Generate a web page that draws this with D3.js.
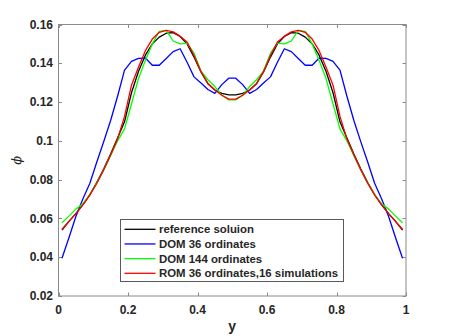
<!DOCTYPE html>
<html>
<head>
<meta charset="utf-8">
<script src="https://cdn.jsdelivr.net/npm/d3@7"></script>
<style>
  body { margin: 0; background: #fff; }
  svg { display: block; }
  text { font-family: 'Liberation Sans', Arial, Helvetica, sans-serif; font-weight: bold; fill: #262626; }
</style>
</head>
<body>
<svg id="chart" width="449" height="336"></svg>
<script>
// spatial positions (y) of the cell centres
const positions = [
  0.01, 0.03, 0.05, 0.07, 0.09, 0.11, 0.13, 0.15, 0.17, 0.19,
  0.21, 0.23, 0.25, 0.27, 0.29, 0.31, 0.33, 0.35, 0.37, 0.39,
  0.41, 0.43, 0.45, 0.47, 0.49, 0.51, 0.53, 0.55, 0.57, 0.59,
  0.61, 0.63, 0.65, 0.67, 0.69, 0.71, 0.73, 0.75, 0.77, 0.79,
  0.81, 0.83, 0.85, 0.87, 0.89, 0.91, 0.93, 0.95, 0.97, 0.99
]

const reference = [
  0.0540, 0.0585, 0.0625, 0.0670, 0.0722, 0.0785, 0.0855, 0.0932, 0.1015, 0.1098,
  0.1248, 0.1358, 0.1442, 0.1500, 0.1535, 0.1555, 0.1558, 0.1538, 0.1500, 0.1432,
  0.1355, 0.1295, 0.1262, 0.1245, 0.1237, 0.1237, 0.1245, 0.1262, 0.1295, 0.1355,
  0.1432, 0.1500, 0.1538, 0.1558, 0.1555, 0.1535, 0.1500, 0.1442, 0.1358, 0.1248,
  0.1098, 0.1015, 0.0932, 0.0855, 0.0785, 0.0722, 0.0670, 0.0625, 0.0585, 0.0540
]

const dom36 = [
  0.0395, 0.0500, 0.0610, 0.0700, 0.0780, 0.0890, 0.0995, 0.1105, 0.1230, 0.1365,
  0.1410, 0.1425, 0.1427, 0.1390, 0.1390, 0.1425, 0.1460, 0.1475, 0.1405, 0.1330,
  0.1298, 0.1265, 0.1245, 0.1290, 0.1323, 0.1323, 0.1290, 0.1245, 0.1265, 0.1298,
  0.1330, 0.1405, 0.1475, 0.1460, 0.1425, 0.1390, 0.1390, 0.1427, 0.1425, 0.1410,
  0.1365, 0.1230, 0.1105, 0.0995, 0.0890, 0.0780, 0.0700, 0.0610, 0.0500, 0.0395
]

const dom144 = [
  0.0578, 0.0612, 0.0648, 0.0675, 0.0722, 0.0782, 0.0850, 0.0925, 0.1000, 0.1062,
  0.1190, 0.1320, 0.1415, 0.1500, 0.1565, 0.1570, 0.1515, 0.1500, 0.1504, 0.1452,
  0.1360, 0.1315, 0.1280, 0.1235, 0.1211, 0.1211, 0.1235, 0.1280, 0.1315, 0.1360,
  0.1452, 0.1504, 0.1500, 0.1515, 0.1570, 0.1565, 0.1500, 0.1415, 0.1320, 0.1190,
  0.1062, 0.1000, 0.0925, 0.0850, 0.0782, 0.0722, 0.0675, 0.0648, 0.0612, 0.0578
]

const rom36 = [
  0.0544, 0.0585, 0.0625, 0.0670, 0.0720, 0.0780, 0.0850, 0.0927, 0.1010, 0.1126,
  0.1287, 0.1380, 0.1465, 0.1525, 0.1560, 0.1570, 0.1562, 0.1540, 0.1510, 0.1440,
  0.1358, 0.1296, 0.1262, 0.1235, 0.1215, 0.1215, 0.1235, 0.1262, 0.1296, 0.1358,
  0.1440, 0.1510, 0.1540, 0.1562, 0.1570, 0.1560, 0.1525, 0.1465, 0.1380, 0.1287,
  0.1126, 0.1010, 0.0927, 0.0850, 0.0780, 0.0720, 0.0670, 0.0625, 0.0585, 0.0544
]

const xTicks = [0, 0.2, 0.4, 0.6, 0.8, 1]
const yTicks = [0.02, 0.04, 0.06, 0.08, 0.1, 0.12, 0.14, 0.16]
const xTickLabels = ['0', '0.2', '0.4', '0.6', '0.8', '1']
const yTickLabels = ['0.02', '0.04', '0.06', '0.08', '0.1', '0.12', '0.14', '0.16']

const seriesNames = [
  'reference soluion',
  'DOM 36 ordinates',
  'DOM 144 ordinates',
  'ROM 36 ordinates,16 simulations'
]
const seriesColors = ['#000000', '#0000ff', '#00ff00', '#ff0000']
const seriesValues = [reference, dom36, dom144, rom36]

const margin = { left: 58.5, right: 43, top: 24.5, bottom: 40 }
const width = 449
const height = 336

const svg = d3.select('#chart')

const x = d3.scaleLinear().domain([0, 1]).range([margin.left, width - margin.right])
const y = d3.scaleLinear().domain([0.02, 0.16]).range([height - margin.bottom, margin.top])

const axisColor = '#262626'
const tickLen = 3.5

// box
svg.append('rect')
  .attr('x', x(0)).attr('y', y(0.16))
  .attr('width', x(1) - x(0)).attr('height', y(0.02) - y(0.16))
  .attr('fill', '#fff')
  .attr('stroke', '#8a8a8a')
  .attr('stroke-width', 1)

// ticks (inward, all four sides)
const tickG = svg.append('g').attr('stroke', '#8a8a8a').attr('stroke-width', 1)
xTicks.forEach((t) => {
  const px = Math.round(x(t)) + 0.5
  tickG.append('line').attr('x1', px).attr('x2', px).attr('y1', y(0.02)).attr('y2', y(0.02) - tickLen)
  tickG.append('line').attr('x1', px).attr('x2', px).attr('y1', y(0.16)).attr('y2', y(0.16) + tickLen)
})
yTicks.forEach((t) => {
  const py = Math.round(y(t)) + 0.5
  tickG.append('line').attr('x1', x(0)).attr('x2', x(0) + tickLen).attr('y1', py).attr('y2', py)
  tickG.append('line').attr('x1', x(1)).attr('x2', x(1) - tickLen).attr('y1', py).attr('y2', py)
})

// tick labels
svg.append('g').selectAll('text')
  .data(xTicks)
  .join('text')
  .attr('x', (d) => x(d))
  .attr('y', y(0.02) + 18)
  .attr('text-anchor', 'middle')
  .style('font-size', '12px')
  .text((d, i) => xTickLabels[i])

svg.append('g').selectAll('text')
  .data(yTicks)
  .join('text')
  .attr('x', x(0) - 5.5)
  .attr('y', (d) => y(d) + 4.2)
  .attr('text-anchor', 'end')
  .style('font-size', '12px')
  .text((d, i) => yTickLabels[i])

// axis labels
svg.append('text')
  .attr('x', (x(0) + x(1)) / 2)
  .attr('y', 331)
  .attr('text-anchor', 'middle')
  .style('font-size', '14px')
  .text('y')

svg.append('text')
  .attr('transform', `translate(21,${(y(0.02) + y(0.16)) / 2}) rotate(-90)`)
  .attr('text-anchor', 'middle')
  .style('font-size', '13px')
  .style('font-weight', 'normal')
  .style('font-style', 'italic')
  .style('font-family', "'DejaVu Serif', serif")
  .text('\u03d5')

// lines
const line = d3.line()
  .x((d, i) => x(positions[i]))
  .y((d) => y(d))

svg.append('g')
  .selectAll('path')
  .data(seriesValues)
  .join('path')
  .attr('d', line)
  .attr('fill', 'none')
  .attr('stroke', (d, i) => seriesColors[i])
  .attr('stroke-width', 1.3)
  .attr('stroke-linejoin', 'round')

// legend
const legend = svg.append('g')
legend.append('rect')
  .attr('x', 120.5).attr('y', 219.5)
  .attr('width', 223).attr('height', 62)
  .attr('fill', '#fff')
  .attr('stroke', '#5a5a5a')
  .attr('stroke-width', 1)

const rowY = d3.scaleLinear().domain([0, 3]).range([229.3, 273.3])

legend.selectAll('line')
  .data(seriesNames)
  .join('line')
  .attr('x1', 124.5).attr('x2', 155.5)
  .attr('y1', (d, i) => rowY(i)).attr('y2', (d, i) => rowY(i))
  .attr('stroke', (d, i) => seriesColors[i])
  .attr('stroke-width', 1.3)

legend.selectAll('text')
  .data(seriesNames)
  .join('text')
  .attr('x', 159)
  .attr('y', (d, i) => rowY(i) + 4)
  .style('font-size', '11.4px')
  .text((d) => d)
</script>
</body>
</html>
